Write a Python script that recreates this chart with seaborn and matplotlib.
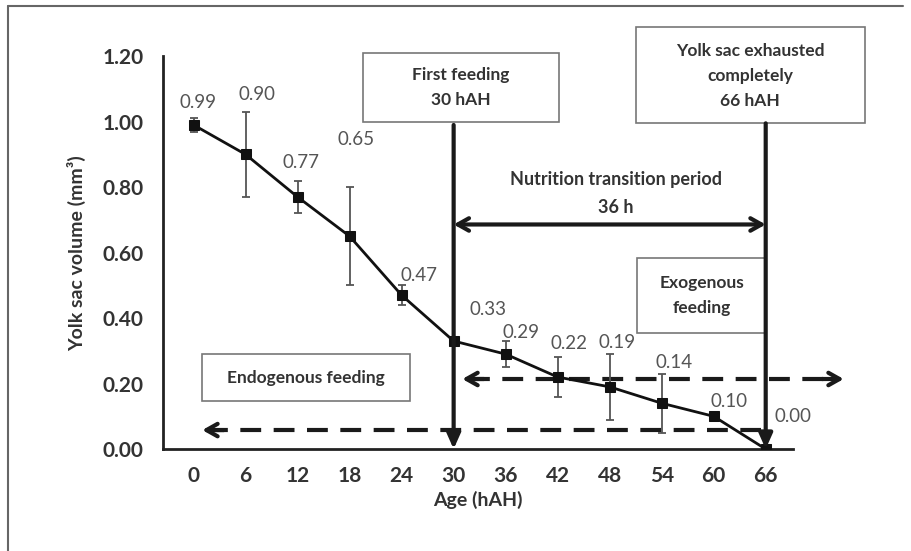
import numpy as np
import pandas as pd
import seaborn as sns
from matplotlib import pyplot as plt
from matplotlib.patches import Rectangle
from matplotlib.lines import Line2D

# yolk sac volume per age (hours after hatching)
ages = [0, 6, 12, 18, 24, 30, 36, 42, 48, 54, 60, 66]
volumes = [0.99, 0.90, 0.77, 0.65, 0.47, 0.33, 0.29, 0.22, 0.19, 0.14, 0.10, 0.00]
errors = [0.02, 0.13, 0.05, 0.15, 0.03, 0.00, 0.04, 0.06, 0.10, 0.09, 0.01, 0.00]
y_ticks = [0.0, 0.2, 0.4, 0.6, 0.8, 1.0, 1.2]

first_feeding = 30
exhausted = 66

# label offsets in pixels (dx, dy) from each point
label_offsets = [(4, 22), (11, 60), (3, 34), (6, 97), (17, 20), (34, 32),
                 (15, 22), (11, 34), (7, 44), (12, 41), (15, 15), (27, 33)]

sns.set_style("white")
plt.rcParams['font.family'] = ['Lato', 'DejaVu Sans']

df = pd.DataFrame({"age": ages, "volume": volumes, "err": errors})

fig = plt.figure(figsize=(9.12, 5.51), dpi=100)
ax = fig.add_axes([0.179, 0.185, 0.691, 0.713])

# error bars first, then the line on top
ax.errorbar(df["age"], df["volume"], yerr=df["err"], fmt="none", ecolor="#555555",
            elinewidth=1.3, capsize=3, capthick=1.3, zorder=2)
sns.lineplot(data=df, x="age", y="volume", color="#111111", lw=2, marker="s",
             markersize=7, markeredgecolor="#111111", ax=ax, zorder=3)

for a, v, (dx, dy) in zip(ages, volumes, label_offsets):
    ax.annotate(f"{v:.2f}", (a, v), xytext=(dx, dy), textcoords="offset pixels",
                ha="center", va="center", fontsize=13.5, color="#555555")

ax.set_xlim(-3.5, 69.2)
ax.set_ylim(0, 1.2)
ax.set_xticks(ages)
ax.set_yticks(y_ticks)
ax.set_yticklabels([f"{t:.2f}" for t in y_ticks])
ax.tick_params(axis="both", direction="out", length=4, width=1.5, color="#222222",
               labelsize=15, labelcolor="#333333")
ax.tick_params(axis="x", pad=8)
ax.tick_params(axis="y", pad=10)
for lab in ax.get_xticklabels() + ax.get_yticklabels():
    lab.set_fontweight("bold")
for side in ["top", "right"]:
    ax.spines[side].set_visible(False)
for side in ["left", "bottom"]:
    ax.spines[side].set_linewidth(2)
    ax.spines[side].set_color("#222222")

ax.set_xlabel("Age (hAH)", fontsize=14, fontweight="bold", color="#333333", labelpad=4)
ax.set_ylabel("Yolk sac volume (mm³)", fontsize=14, fontweight="bold", color="#333333", labelpad=12)

box_kw = dict(facecolor="white", edgecolor="#777777", lw=1.2, clip_on=False, zorder=4)
txt_kw = dict(ha="center", va="center", fontsize=12.5, fontweight="bold", color="#333333",
              linespacing=1.7, zorder=5)

# boxes
ax.add_patch(Rectangle((19.5, 1.0), 22.7, 0.21, **box_kw))
ax.text(30.85, 1.105, "First feeding\n30 hAH", **txt_kw)
ax.add_patch(Rectangle((51.0, 0.995), 26.4, 0.295, **box_kw))
ax.text(64.2, 1.14, "Yolk sac exhausted\ncompletely\n66 hAH", **txt_kw)
ax.add_patch(Rectangle((51.2, 0.355), 14.8, 0.23, **box_kw))
ax.text(58.6, 0.47, "Exogenous\nfeeding", **txt_kw)
ax.add_patch(Rectangle((1.0, 0.147), 24.0, 0.143, **box_kw))
ax.text(13.0, 0.218, "Endogenous feeding", **txt_kw)

# vertical arrows
for xv, top in [(first_feeding, 0.99), (exhausted, 0.995)]:
    ax.annotate("", xy=(xv, 0.0), xytext=(xv, top),
                arrowprops=dict(arrowstyle="-|>,head_length=0.9,head_width=0.4",
                                lw=3, color="#1a1a1a", shrinkA=0, shrinkB=0), zorder=6)

# nutrition transition period
ax.annotate("", xy=(first_feeding, 0.686), xytext=(exhausted, 0.686),
            arrowprops=dict(arrowstyle="<->,head_length=0.8,head_width=0.45",
                            lw=3, color="#1a1a1a", shrinkA=0, shrinkB=0))
ax.text(48.7, 0.823, "Nutrition transition period", ha="center", va="center",
        fontsize=13, fontweight="bold", color="#333333")
ax.text(48.7, 0.737, "36 h", ha="center", va="center",
        fontsize=13, fontweight="bold", color="#333333")

# dashed arrows
dash = (0, (5, 3))
ax.plot([1.6, 65.5], [0.058, 0.058], color="#1a1a1a", lw=3, ls=dash, zorder=1)
ax.annotate("", xy=(1.0, 0.058), xytext=(3.5, 0.058),
            arrowprops=dict(arrowstyle="->,head_length=0.8,head_width=0.45",
                            lw=3, color="#1a1a1a", shrinkA=0, shrinkB=0))
ax.plot([31.8, 74.0], [0.214, 0.214], color="#1a1a1a", lw=3, ls=dash, zorder=1,
        clip_on=False)
ax.annotate("", xy=(31.0, 0.214), xytext=(33.5, 0.214),
            arrowprops=dict(arrowstyle="->,head_length=0.8,head_width=0.45",
                            lw=3, color="#1a1a1a", shrinkA=0, shrinkB=0))
ax.annotate("", xy=(75.0, 0.214), xytext=(72.5, 0.214), annotation_clip=False,
            arrowprops=dict(arrowstyle="->,head_length=0.8,head_width=0.45",
                            lw=3, color="#1a1a1a", shrinkA=0, shrinkB=0))

# frame of the original figure (top and left edges)
fig.add_artist(Line2D([0.0088, 0.99], [0.989, 0.989], color="#666666", lw=1.5))
fig.add_artist(Line2D([0.0088, 0.0088], [0.0, 0.989], color="#666666", lw=1.5))

fig.savefig("out.png", dpi=100)
